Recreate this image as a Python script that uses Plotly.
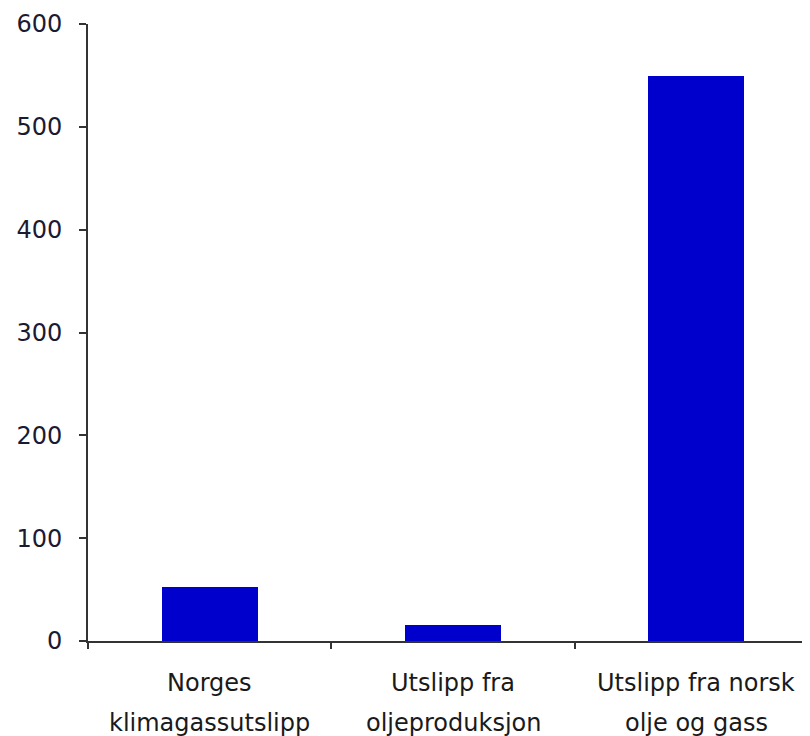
import plotly.graph_objects as go

categories = ["Norges<br>klimagassutslipp", "Utslipp fra<br>oljeproduksjon", "Utslipp fra norsk<br>olje og gass"]
values = [53, 15.5, 549]
y_ticks = [0, 100, 200, 300, 400, 500, 600]

fig = go.Figure(go.Bar(
    x=list(range(len(categories))),
    y=values,
    marker=dict(color="#0000CC", line=dict(width=0)),
    width=0.395,
))

fig.update_layout(
    width=810, height=736,
    margin=dict(l=80, r=0, t=16, b=103),
    paper_bgcolor="white", plot_bgcolor="white",
    showlegend=False,
    font=dict(family="DejaVu Sans", size=24, color="#1a1a1a"),
    bargap=0,
)
fig.update_xaxes(
    range=[-0.5, 2.5],
    tickmode="array",
    tickvals=[-0.5, 0.5, 1.5],
    ticktext=["", "", ""],
    ticks="outside", ticklen=6, tickwidth=2, tickcolor="#333333",
    showline=True, linecolor="#333333", linewidth=2,
    showgrid=False, zeroline=False,
)
for i, c in enumerate(categories):
    for j, line in enumerate(c.split("<br>")):
        fig.add_annotation(x=i, y=0, xref="x", yref="paper", text=line, showarrow=False,
                           yanchor="top", yshift=-26 - 40 * j,
                           font=dict(size=24, color="#1a1a1a"))
fig.update_yaxes(
    range=[0, 600],
    tickvals=y_ticks,
    ticks="outside", ticklen=7, tickwidth=2, tickcolor="#333333",
    showline=True, linecolor="#333333", linewidth=2,
    showgrid=False, zeroline=False,
    ticklabelstandoff=12,
    tickfont=dict(size=24, color="#1a1a33"),
)
fig.write_html("out.html")
